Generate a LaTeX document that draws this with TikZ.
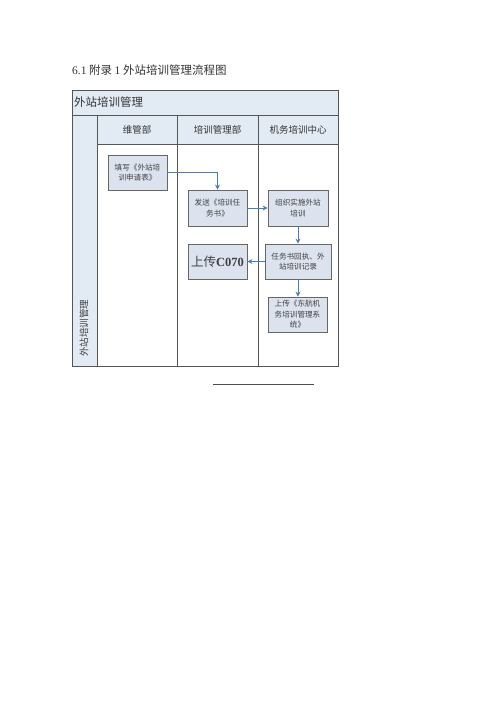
\documentclass[tikz,border=0pt]{standalone}
\usepackage{fontspec}
\setmainfont{Liberation Serif}
\newfontfamily\cjk{Noto Sans CJK SC}
\usetikzlibrary{arrows.meta}
\definecolor{hdrbg}{HTML}{E2EAF4}
\definecolor{boxbg}{HTML}{DCE3EE}
\definecolor{flowblue}{HTML}{4A7EBB}
\definecolor{linegray}{HTML}{555555}
\begin{document}
\begin{tikzpicture}[x=1pt,y=-1pt,
  lane/.style={draw=linegray,line width=0.9pt},
  box/.style={draw=black!60, fill=boxbg, line width=0.8pt, inner sep=1pt, align=center, font=\cjk\fontsize{7.6}{10.5}\selectfont, text=black!75},
  flow/.style={draw=flowblue, line width=1pt, -{Stealth[length=5pt,width=5pt]}}
]
\useasboundingbox (0,0) rectangle (500,707);
% title
\node[anchor=west, inner sep=0pt, font=\cjk\fontsize{11.5}{13}\selectfont, text=black!80] (title) at (72,70) {{\fontspec{Liberation Serif}6.1} 附录 {\fontspec{Liberation Serif}1} 外站培训管理流程图};
% table
\path[fill=hdrbg] (72,90) rectangle (338,115);
\path[fill=hdrbg] (72,115) rectangle (97,366);
\path[fill=hdrbg] (97,115) rectangle (338,144);
\draw[lane] (72,90) rectangle (338,366);
\draw[lane] (72,115) -- (338,115);
\draw[lane] (97,144) -- (338,144);
\draw[lane] (97,115) -- (97,366);
\draw[lane] (177,115) -- (177,366);
\draw[lane] (258,115) -- (258,366);
\node[anchor=west, inner sep=0pt, font=\cjk\fontsize{11.5}{13}\selectfont, text=black!80] (hdr) at (74,102.5) {外站培训管理};
\node[font=\cjk\fontsize{9.5}{11}\selectfont, text=black!80] (c1) at (137,129.5) {维管部};
\node[font=\cjk\fontsize{9.5}{11}\selectfont, text=black!80] (c2) at (217.5,129.5) {培训管理部};
\node[font=\cjk\fontsize{9.5}{11}\selectfont, text=black!80] (c3) at (298,129.5) {机务培训中心};
\node[rotate=90, font=\cjk\fontsize{9.5}{11}\selectfont, text=black!75] (side) at (84,328) {外站培训管理};
% boxes
\node[box, minimum width=59pt, minimum height=35pt] (b1) at (137.5,172.5) {填写《外站培\\训申请表》};
\node[box, minimum width=59pt, minimum height=36pt] (b2) at (217.5,208) {发送《培训任\\务书》};
\node[box, minimum width=60pt, minimum height=36pt] (b3) at (298,208) {组织实施外站\\培训};
\node[box, minimum width=59pt, minimum height=35pt, font=\cjk\fontsize{12.5}{14}\selectfont] (b4) at (217.5,261.5) {上传\textbf{\fontspec{Liberation Serif}C070}};
\node[box, minimum width=66pt, minimum height=35pt] (b5) at (298,261.5) {任务书回执、外\\站培训记录};
\node[box, minimum width=59pt, minimum height=35pt] (b6) at (297.5,314.5) {上传《东航机\\务培训管理系\\统》};
% arrows
\draw[flow] (b1.east) -- (b1.east -| b2.north) -- (b2.north);
\draw[flow] (b2.east) -- (b3.west);
\draw[flow] (b3.south) -- (b3.south |- b5.north);
\draw[flow] (b5.west) -- (b4.east);
\draw[flow] (b5.south) -- (b5.south |- b6.north);
% footnote rule
\coordinate (r1) at (213,384);
\coordinate (r2) at (314,384);
\draw[black!70, line width=0.7pt] (r1) -- (r2);
\end{tikzpicture}
\end{document}
